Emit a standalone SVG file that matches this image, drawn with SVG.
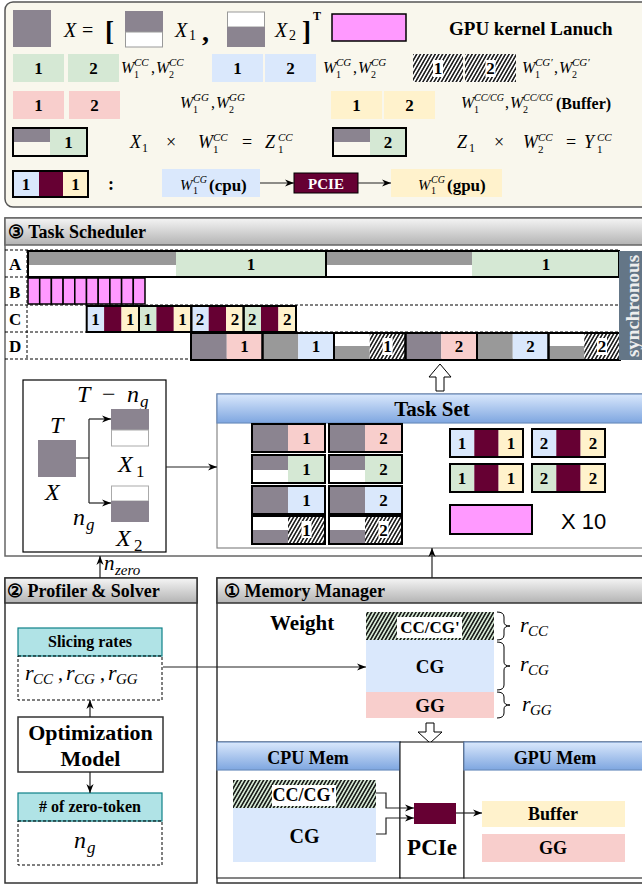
<svg xmlns="http://www.w3.org/2000/svg" width="642" height="888" viewBox="0 0 642 888">
<style>
.t{font-family:"Liberation Serif","DejaVu Serif",serif}
.b{font-weight:bold}
.i{font-style:italic}
.c{text-anchor:middle}
.d{font-family:"Liberation Serif","DejaVu Serif",serif;font-weight:bold;font-size:17px;text-anchor:middle}
.s{stroke:#000;stroke-width:2;fill:none}
.e{stroke:#222;stroke-width:1.2;fill:none;marker-end:url(#a)}
.gp{fill:#8b8490}
.gy{fill:#999999}
.G{fill:#d5e8d4}
.B{fill:#dae8fc}
.R{fill:#f8cecc}
.Y{fill:#fff2cc}
.M{fill:#660033}
.P{fill:#ff99ff}
.W{fill:#ffffff}
.H{fill:url(#h)}
.dl{stroke:#000;stroke-width:1;stroke-dasharray:3 2;fill:none}
</style>
<defs>
<pattern id="h" width="3.2" height="3.2" patternUnits="userSpaceOnUse" patternTransform="rotate(30)"><line x1="0.8" y1="0" x2="0.8" y2="3.2" stroke="#000" stroke-width="1.4"/></pattern>
<linearGradient id="gh" x1="0" y1="0" x2="0" y2="1"><stop offset="0" stop-color="#f5f5f5"/><stop offset="1" stop-color="#b3b3b3"/></linearGradient>
<linearGradient id="bh" x1="0" y1="0" x2="0" y2="1"><stop offset="0" stop-color="#dae8fc"/><stop offset="1" stop-color="#7ea6e0"/></linearGradient>
<marker id="a" viewBox="0 0 10 10" refX="10" refY="5" markerWidth="9" markerHeight="9" orient="auto" markerUnits="userSpaceOnUse"><path d="M0,1 L10,5 L0,9 L3,5 z" fill="#000"/></marker>
</defs>

<g id="legend">
<rect x="5" y="2" width="645" height="205" rx="8" fill="#f9f7ed" stroke="#555" stroke-width="1.5"/>
<rect x="13" y="10" width="38" height="37" class="gp"/>
<text class="t i" x="64" y="37" font-size="20">X</text>
<text class="t" x="82" y="37" font-size="20">=</text>
<text class="t b" x="105" y="40" font-size="27">[</text>
<rect x="125" y="11" width="38" height="21" class="gp"/>
<rect x="125.5" y="32" width="37" height="15" fill="#fff" stroke="#999"/>
<text class="t i" x="175" y="37" font-size="20">X</text>
<text class="t" x="189" y="40" font-size="14">1</text>
<text class="t b" x="202" y="41" font-size="28">,</text>
<rect x="227.5" y="12" width="37" height="15" fill="#fff" stroke="#999"/>
<rect x="227" y="27" width="38" height="20" class="gp"/>
<text class="t i" x="275" y="37" font-size="20">X</text>
<text class="t" x="289" y="40" font-size="14">2</text>
<text class="t b" x="302" y="40" font-size="27">]</text>
<text class="t b" x="313" y="20" font-size="12">T</text>
<rect x="332" y="14" width="74" height="27" class="P" stroke="#000" stroke-width="1.5"/>
<text class="t b" x="449" y="35" font-size="19">GPU kernel Lanuch</text>

<rect x="13" y="54" width="51" height="28" class="G"/>
<rect x="68" y="54" width="51" height="28" class="G"/>
<text class="d" x="38.5" y="74">1</text>
<text class="d" x="93.5" y="74">2</text>
<text class="t i" x="121" y="73" font-size="16">W</text>
<text class="t i" x="134" y="66" font-size="11">CC</text>
<text class="t" x="134" y="78" font-size="10">1</text>
<text class="t" x="151" y="73" font-size="16">,</text>
<text class="t i" x="156" y="73" font-size="16">W</text>
<text class="t i" x="169" y="66" font-size="11">CC</text>
<text class="t" x="169" y="78" font-size="10">2</text>

<rect x="212" y="54" width="51" height="28" class="B"/>
<rect x="265" y="54" width="51" height="28" class="B"/>
<text class="d" x="237.5" y="74">1</text>
<text class="d" x="290.5" y="74">2</text>
<text class="t i" x="323" y="73" font-size="16">W</text>
<text class="t i" x="336" y="66" font-size="11">CG</text>
<text class="t" x="336" y="78" font-size="10">1</text>
<text class="t" x="353" y="73" font-size="16">,</text>
<text class="t i" x="358" y="73" font-size="16">W</text>
<text class="t i" x="371" y="66" font-size="11">CG</text>
<text class="t" x="371" y="78" font-size="10">2</text>

<rect x="413" y="54" width="50" height="28" class="W"/>
<rect x="413" y="54" width="50" height="28" class="H"/>
<rect x="465" y="54" width="51" height="28" class="W"/>
<rect x="465" y="54" width="51" height="28" class="H"/>
<rect x="433" y="60" width="10" height="17" class="W"/>
<rect x="485.5" y="60" width="10" height="17" class="W"/>
<text class="d" x="438" y="74">1</text>
<text class="d" x="490.5" y="74">2</text>
<text class="t i" x="522" y="73" font-size="16">W</text>
<text class="t i" x="535" y="66" font-size="11">CG′</text>
<text class="t" x="535" y="78" font-size="10">1</text>
<text class="t" x="554" y="73" font-size="16">,</text>
<text class="t i" x="559" y="73" font-size="16">W</text>
<text class="t i" x="572" y="66" font-size="11">CG′</text>
<text class="t" x="572" y="78" font-size="10">2</text>

<rect x="13" y="91" width="51" height="28" class="R"/>
<rect x="69" y="91" width="51" height="28" class="R"/>
<text class="d" x="38.5" y="111">1</text>
<text class="d" x="94.5" y="111">2</text>
<text class="t i" x="180" y="108" font-size="16">W</text>
<text class="t i" x="193" y="101" font-size="11">GG</text>
<text class="t" x="193" y="113" font-size="10">1</text>
<text class="t" x="211" y="108" font-size="16">,</text>
<text class="t i" x="216" y="108" font-size="16">W</text>
<text class="t i" x="229" y="101" font-size="11">GG</text>
<text class="t" x="229" y="113" font-size="10">2</text>

<rect x="331" y="91" width="51" height="28" class="Y"/>
<rect x="384" y="91" width="51" height="28" class="Y"/>
<text class="d" x="356.5" y="111">1</text>
<text class="d" x="409.5" y="111">2</text>
<text class="t i" x="461" y="108" font-size="16">W</text>
<text class="t i" x="474" y="101" font-size="10">CC/CG</text>
<text class="t" x="474" y="113" font-size="10">1</text>
<text class="t" x="505" y="108" font-size="16">,</text>
<text class="t i" x="510" y="108" font-size="16">W</text>
<text class="t i" x="523" y="101" font-size="10">CC/CG</text>
<text class="t" x="523" y="113" font-size="10">2</text>
<text class="t b" x="556" y="109" font-size="16">(Buffer)</text>

<rect x="13" y="128" width="37" height="14" class="gp"/>
<rect x="50" y="128" width="37" height="28" class="G"/>
<rect x="13" y="128" width="74" height="28" class="s"/>
<text class="d" x="68.5" y="148">1</text>
<text class="t i" x="130" y="148" font-size="18">X</text>
<text class="t" x="142" y="152" font-size="12">1</text>
<text class="t" x="166" y="148" font-size="18">×</text>
<text class="t i" x="198" y="148" font-size="18">W</text>
<text class="t i" x="213" y="141" font-size="11">CC</text>
<text class="t" x="213" y="153" font-size="11">1</text>
<text class="t" x="242" y="148" font-size="18">=</text>
<text class="t i" x="265" y="148" font-size="18">Z</text>
<text class="t i" x="278" y="141" font-size="11">CC</text>
<text class="t" x="278" y="153" font-size="11">1</text>

<rect x="333" y="128" width="37" height="14" class="gp"/>
<rect x="370" y="128" width="36" height="28" class="G"/>
<rect x="333" y="128" width="73" height="28" class="s"/>
<text class="d" x="388" y="148">2</text>
<text class="t i" x="457" y="148" font-size="18">Z</text>
<text class="t" x="469" y="152" font-size="12">1</text>
<text class="t" x="494" y="148" font-size="18">×</text>
<text class="t i" x="523" y="148" font-size="18">W</text>
<text class="t i" x="538" y="141" font-size="11">CC</text>
<text class="t" x="538" y="153" font-size="11">2</text>
<text class="t" x="566" y="148" font-size="18">=</text>
<text class="t i" x="584" y="148" font-size="18">Y</text>
<text class="t i" x="597" y="141" font-size="11">CC</text>
<text class="t" x="597" y="153" font-size="11">1</text>

<rect x="13" y="171" width="26" height="26" class="B"/>
<rect x="39" y="171" width="24" height="26" class="M"/>
<rect x="63" y="171" width="25" height="26" class="Y"/>
<rect x="13" y="171" width="75" height="26" class="s"/>
<text class="d" x="26" y="190">1</text>
<text class="d" x="75.5" y="190">1</text>
<text class="t b" x="108" y="190" font-size="18">:</text>
<rect x="162" y="169" width="98" height="28" class="B"/>
<text class="t i" x="180" y="190" font-size="15">W</text>
<text class="t i" x="193" y="183" font-size="10">CG</text>
<text class="t" x="193" y="194" font-size="10">1</text>
<text class="t b" x="209" y="191" font-size="17">(cpu)</text>
<rect x="294" y="173" width="64" height="20" class="M" stroke="#000" stroke-width="1"/>
<text class="t b c" x="326" y="188.5" font-size="15" fill="#fff">PCIE</text>
<rect x="391" y="169" width="111" height="28" class="Y"/>
<text class="t i" x="418" y="190" font-size="15">W</text>
<text class="t i" x="431" y="183" font-size="10">CG</text>
<text class="t" x="431" y="194" font-size="10">1</text>
<text class="t b" x="447" y="191" font-size="17">(gpu)</text>
</g>

<g id="task-scheduler">
<rect x="5" y="218" width="645" height="338" fill="#fff" stroke="#666" stroke-width="1.5"/>
<rect x="5" y="218" width="645" height="27" fill="url(#gh)" stroke="#666" stroke-width="1.5"/>
<text class="t b" x="8" y="238" font-size="18">③ Task Scheduler</text>
<path class="dl" d="M5,250H619M5,277H619M5,305H619M5,332H619M5,359H619M27,250V359"/>
<text class="t b" x="9" y="270" font-size="17">A</text>
<text class="t b" x="9" y="298" font-size="17">B</text>
<text class="t b" x="9" y="325" font-size="17">C</text>
<text class="t b" x="9" y="352" font-size="17">D</text>
</g>

<g id="row-a">
<rect x="28" y="251" width="148" height="14" class="gy"/>
<rect x="28" y="265" width="148" height="12" class="W"/>
<rect x="176" y="251" width="150" height="26" class="G"/>
<rect x="326" y="251" width="146" height="14" class="gy"/>
<rect x="326" y="265" width="146" height="12" class="W"/>
<rect x="472" y="251" width="147" height="26" class="G"/>
<rect x="28" y="251" width="591" height="26" class="s"/>
<line x1="326" y1="251" x2="326" y2="277" stroke="#000" stroke-width="2"/>
<text class="d" x="251" y="270">1</text>
<text class="d" x="546" y="270">1</text>
</g>

<g id="row-b" stroke="#000" stroke-width="1.5">
<rect x="28" y="278" width="11.7" height="26" class="P"/>
<rect x="39.7" y="278" width="11.7" height="26" class="P"/>
<rect x="51.4" y="278" width="11.7" height="26" class="P"/>
<rect x="63.1" y="278" width="11.7" height="26" class="P"/>
<rect x="74.8" y="278" width="11.7" height="26" class="P"/>
<rect x="86.5" y="278" width="11.7" height="26" class="P"/>
<rect x="98.2" y="278" width="11.7" height="26" class="P"/>
<rect x="109.9" y="278" width="11.7" height="26" class="P"/>
<rect x="121.6" y="278" width="11.7" height="26" class="P"/>
<rect x="133.3" y="278" width="11.7" height="26" class="P"/>
</g>

<g id="row-c">
<rect x="86.7" y="306" width="17.4" height="26" class="B"/><rect x="104.1" y="306" width="17.4" height="26" class="M"/><rect x="121.5" y="306" width="17.5" height="26" class="Y"/>
<rect x="139" y="306" width="17.4" height="26" class="G"/><rect x="156.4" y="306" width="17.4" height="26" class="M"/><rect x="173.8" y="306" width="17.5" height="26" class="Y"/>
<rect x="191.3" y="306" width="17.4" height="26" class="B"/><rect x="208.7" y="306" width="17.4" height="26" class="M"/><rect x="226.1" y="306" width="17.5" height="26" class="Y"/>
<rect x="243.6" y="306" width="17.4" height="26" class="G"/><rect x="261" y="306" width="17.4" height="26" class="M"/><rect x="278.4" y="306" width="17.6" height="26" class="Y"/>
<rect x="86.7" y="306" width="52.3" height="26" class="s"/>
<rect x="139" y="306" width="52.3" height="26" class="s"/>
<rect x="191.3" y="306" width="52.3" height="26" class="s"/>
<rect x="243.6" y="306" width="52.4" height="26" class="s"/>
<text class="d" x="95.4" y="325">1</text><text class="d" x="130.3" y="325">1</text>
<text class="d" x="147.7" y="325">1</text><text class="d" x="182.6" y="325">1</text>
<text class="d" x="200" y="325">2</text><text class="d" x="234.9" y="325">2</text>
<text class="d" x="252.3" y="325">2</text><text class="d" x="287.2" y="325">2</text>
</g>

<g id="row-d">
<rect x="191" y="333" width="35.75" height="27" class="gp"/><rect x="226.75" y="333" width="35.75" height="27" class="R"/>
<rect x="262.5" y="333" width="35.75" height="27" class="gy"/><rect x="298.25" y="333" width="35.75" height="27" class="B"/>
<rect x="334" y="333" width="35.75" height="27" class="W"/><rect x="334" y="346" width="35.75" height="14" class="gy"/>
<rect x="369.75" y="333" width="35.75" height="27" class="W"/><rect x="369.75" y="333" width="35.75" height="27" class="H"/>
<rect x="405.5" y="333" width="35.75" height="27" class="gp"/><rect x="441.25" y="333" width="35.75" height="27" class="R"/>
<rect x="477" y="333" width="35.75" height="27" class="gy"/><rect x="512.75" y="333" width="35.75" height="27" class="B"/>
<rect x="548.5" y="333" width="35.75" height="27" class="W"/><rect x="548.5" y="346" width="35.75" height="14" class="gy"/>
<rect x="584.25" y="333" width="35.75" height="27" class="W"/><rect x="584.25" y="333" width="35.75" height="27" class="H"/>
<rect x="382.6" y="338" width="10" height="17" class="W"/>
<rect x="597" y="338" width="10" height="17" class="W"/>
<rect x="191" y="333" width="71.5" height="27" class="s"/>
<rect x="262.5" y="333" width="71.5" height="27" class="s"/>
<rect x="334" y="333" width="71.5" height="27" class="s"/>
<rect x="405.5" y="333" width="71.5" height="27" class="s"/>
<rect x="477" y="333" width="71.5" height="27" class="s"/>
<rect x="548.5" y="333" width="71.5" height="27" class="s"/>
<text class="d" x="244.6" y="352">1</text>
<text class="d" x="316.1" y="352">1</text>
<text class="d" x="387.6" y="352">1</text>
<text class="d" x="459.1" y="352">2</text>
<text class="d" x="530.6" y="352">2</text>
<text class="d" x="602" y="352">2</text>
</g>

<g id="synchronous">
<rect x="619" y="251" width="27" height="109" fill="#647687"/>
<text class="t b c" transform="translate(639,306) rotate(-90)" font-size="19" fill="#eeeeee">synchronous</text>
</g>

<g id="up-arrow">
<polygon points="440,364 451,377 444,377 444,391 436,391 436,377 429,377" fill="#fff" stroke="#000" stroke-width="1"/>
</g>

<g id="split-box">
<rect x="23" y="380" width="143" height="172" fill="#fff" stroke="#000" stroke-width="1.2"/>
<text class="t i" x="77" y="402" font-size="24">T</text>
<text class="t" x="102" y="402" font-size="24">−</text>
<text class="t i" x="127" y="402" font-size="24">n</text>
<text class="t i" x="140" y="407" font-size="17">g</text>
<text class="t i" x="50" y="433" font-size="24">T</text>
<rect x="38" y="440" width="38" height="37" class="gp"/>
<text class="t i" x="45" y="500" font-size="24">X</text>
<rect x="111" y="409" width="38" height="21" class="gp"/>
<rect x="111.5" y="430" width="37" height="16" fill="#fff" stroke="#aaa"/>
<text class="t i" x="118" y="472" font-size="24">X</text>
<text class="t" x="136" y="477" font-size="17">1</text>
<rect x="111.5" y="486" width="37" height="15" fill="#fff" stroke="#aaa"/>
<rect x="111" y="501" width="38" height="21" class="gp"/>
<text class="t i" x="73" y="525" font-size="24">n</text>
<text class="t i" x="86" y="530" font-size="17">g</text>
<text class="t i" x="116" y="546" font-size="24">X</text>
<text class="t" x="134" y="551" font-size="17">2</text>
</g>

<g id="task-set">
<rect x="217" y="394" width="429" height="154" fill="#fff" stroke="#888" stroke-width="1.2"/>
<rect x="217" y="394" width="429" height="29" fill="url(#bh)" stroke="#6c8ebf" stroke-width="1.2"/>
<text class="t b c" x="432" y="416" font-size="21">Task Set</text>
<rect x="252" y="424" width="36" height="28" class="gp"/><rect x="288" y="424" width="37" height="28" class="R"/>
<rect x="329" y="424" width="36" height="28" class="gp"/><rect x="365" y="424" width="37" height="28" class="R"/>
<rect x="252" y="455" width="36" height="28" class="W"/><rect x="252" y="455" width="36" height="15" class="gp"/><rect x="288" y="455" width="37" height="28" class="G"/>
<rect x="329" y="455" width="36" height="28" class="W"/><rect x="329" y="455" width="36" height="15" class="gp"/><rect x="365" y="455" width="37" height="28" class="G"/>
<rect x="252" y="486" width="36" height="28" class="gp"/><rect x="288" y="486" width="37" height="28" class="B"/>
<rect x="329" y="486" width="36" height="28" class="gp"/><rect x="365" y="486" width="37" height="28" class="B"/>
<rect x="252" y="516" width="36" height="28" class="W"/><rect x="252" y="530" width="36" height="14" class="gp"/><rect x="288" y="516" width="37" height="28" class="W"/><rect x="288" y="516" width="37" height="28" class="H"/>
<rect x="329" y="516" width="36" height="28" class="W"/><rect x="329" y="530" width="36" height="14" class="gp"/><rect x="365" y="516" width="37" height="28" class="W"/><rect x="365" y="516" width="37" height="28" class="H"/>
<rect x="301.5" y="521" width="10" height="17" class="W"/>
<rect x="378.5" y="521" width="10" height="17" class="W"/>
<rect x="252" y="424" width="73" height="28" class="s"/><rect x="329" y="424" width="73" height="28" class="s"/>
<rect x="252" y="455" width="73" height="28" class="s"/><rect x="329" y="455" width="73" height="28" class="s"/>
<rect x="252" y="486" width="73" height="28" class="s"/><rect x="329" y="486" width="73" height="28" class="s"/>
<rect x="252" y="516" width="73" height="28" class="s"/><rect x="329" y="516" width="73" height="28" class="s"/>
<text class="d" x="306.5" y="444">1</text><text class="d" x="383.5" y="444">2</text>
<text class="d" x="306.5" y="475">1</text><text class="d" x="383.5" y="475">2</text>
<text class="d" x="306.5" y="506">1</text><text class="d" x="383.5" y="506">2</text>
<text class="d" x="306.5" y="536">1</text><text class="d" x="383.5" y="536">2</text>

<rect x="450" y="429" width="24.3" height="28" class="B"/><rect x="474.3" y="429" width="24.3" height="28" class="M"/><rect x="498.6" y="429" width="24.4" height="28" class="Y"/>
<rect x="532" y="429" width="24.3" height="28" class="B"/><rect x="556.3" y="429" width="24.3" height="28" class="M"/><rect x="580.6" y="429" width="24.4" height="28" class="Y"/>
<rect x="450" y="464" width="24.3" height="28" class="G"/><rect x="474.3" y="464" width="24.3" height="28" class="M"/><rect x="498.6" y="464" width="24.4" height="28" class="Y"/>
<rect x="532" y="464" width="24.3" height="28" class="G"/><rect x="556.3" y="464" width="24.3" height="28" class="M"/><rect x="580.6" y="464" width="24.4" height="28" class="Y"/>
<rect x="450" y="429" width="73" height="28" class="s"/><rect x="532" y="429" width="73" height="28" class="s"/>
<rect x="450" y="464" width="73" height="28" class="s"/><rect x="532" y="464" width="73" height="28" class="s"/>
<text class="d" x="462" y="449">1</text><text class="d" x="511" y="449">1</text>
<text class="d" x="544" y="449">2</text><text class="d" x="593" y="449">2</text>
<text class="d" x="462" y="484">1</text><text class="d" x="511" y="484">1</text>
<text class="d" x="544" y="484">2</text><text class="d" x="593" y="484">2</text>
<rect x="450" y="505" width="82" height="29" class="P" stroke="#000" stroke-width="2"/>
<text x="561" y="529" font-family="Liberation Sans, Arial, sans-serif" font-size="22">X 10</text>
</g>

<g id="profiler">
<rect x="5" y="578" width="192" height="305" fill="#fff" stroke="#333" stroke-width="1.5"/>
<rect x="5" y="578" width="192" height="25" fill="url(#gh)" stroke="#333" stroke-width="1.5"/>
<text class="t b" x="7" y="597" font-size="18">② Profiler &amp; Solver</text>
<rect x="18" y="628" width="144" height="28" fill="#b0e3e6" stroke="#0e8088" stroke-width="1.2"/>
<text class="t b c" x="90" y="647" font-size="16">Slicing rates</text>
<rect x="18" y="656" width="144" height="44" class="dl"/>
<text class="t i" x="25" y="680" font-size="22">r</text>
<text class="t i" x="33" y="684" font-size="15">CC</text>
<text class="t" x="58" y="680" font-size="20">,</text>
<text class="t i" x="66" y="680" font-size="22">r</text>
<text class="t i" x="74" y="684" font-size="15">CG</text>
<text class="t" x="100" y="680" font-size="20">,</text>
<text class="t i" x="108" y="680" font-size="22">r</text>
<text class="t i" x="116" y="684" font-size="15">GG</text>
<rect x="18" y="717" width="145" height="55" fill="#fff" stroke="#333" stroke-width="1.5"/>
<text class="t b c" x="90.5" y="740" font-size="22">Optimization</text>
<text class="t b c" x="90.5" y="766" font-size="22">Model</text>
<rect x="18" y="793" width="144" height="28" fill="#b0e3e6" stroke="#0e8088" stroke-width="1.2"/>
<text class="t b c" x="90" y="812" font-size="16"># of zero-token</text>
<rect x="18" y="821" width="144" height="44" class="dl"/>
<text class="t i" x="74" y="848" font-size="24">n</text>
<text class="t i" x="87" y="853" font-size="17">g</text>
</g>

<g id="memory-manager">
<rect x="217" y="578" width="429" height="305" fill="#fff" stroke="#333" stroke-width="1.5"/>
<rect x="217" y="578" width="429" height="25" fill="url(#gh)" stroke="#333" stroke-width="1.5"/>
<text class="t b" x="224" y="597" font-size="18">① Memory Manager</text>
<text class="t b" x="270" y="630" font-size="21">Weight</text>
<rect x="366" y="612" width="128" height="28" class="G"/>
<rect x="366" y="612" width="128" height="28" class="H"/>
<rect x="397" y="617" width="65" height="21" class="W"/>
<text class="t b c" x="430" y="633" font-size="17">CC/CG'</text>
<rect x="366" y="640" width="128" height="52" class="B"/>
<text class="t b c" x="430" y="673" font-size="19">CG</text>
<rect x="366" y="692" width="128" height="26" class="R"/>
<text class="t b c" x="430" y="712" font-size="19">GG</text>
<path d="M497,612 Q504,612 504,617 L504,622 Q504,626 510,626 Q504,626 504,630 L504,635 Q504,640 497,640" fill="none" stroke="#000" stroke-width="1"/>
<path d="M497,642 Q504,642 504,647 L504,662 Q504,666 510,666 Q504,666 504,670 L504,685 Q504,690 497,690" fill="none" stroke="#000" stroke-width="1"/>
<path d="M497,692 Q504,692 504,697 L504,701 Q504,705 510,705 Q504,705 504,709 L504,713 Q504,718 497,718" fill="none" stroke="#000" stroke-width="1"/>
<text class="t i" x="520" y="632" font-size="22">r</text>
<text class="t i" x="528" y="636" font-size="15">CC</text>
<text class="t i" x="520" y="671" font-size="22">r</text>
<text class="t i" x="528" y="675" font-size="15">CG</text>
<text class="t i" x="522" y="711" font-size="22">r</text>
<text class="t i" x="530" y="715" font-size="15">GG</text>
<polygon points="426,723 434,723 434,732 442,732 430,743 418,732 426,732" fill="#fff" stroke="#000" stroke-width="1"/>
</g>

<g id="cpu-mem">
<rect x="217" y="742" width="183" height="136" fill="#fff" stroke="#333" stroke-width="1.2"/>
<rect x="217" y="742" width="183" height="28" fill="url(#bh)" stroke="#6c8ebf" stroke-width="1.2"/>
<text class="t b c" x="308" y="764" font-size="18">CPU Mem</text>
<rect x="233" y="780" width="143" height="28" class="G"/>
<rect x="233" y="780" width="143" height="28" class="H"/>
<rect x="272" y="785" width="64" height="21" class="W"/>
<text class="t b c" x="304" y="801" font-size="18">CC/CG'</text>
<rect x="233" y="808" width="143" height="54" class="B"/>
<text class="t b c" x="304.5" y="843" font-size="20">CG</text>
</g>

<g id="pcie">
<rect x="400" y="742" width="64" height="136" fill="#fff" stroke="#000" stroke-width="1"/>
<rect x="414" y="803" width="42" height="21" class="M"/>
<text class="t b c" x="432" y="855" font-size="23">PCIe</text>
</g>

<g id="gpu-mem">
<rect x="464" y="742" width="182" height="136" fill="#fff" stroke="#333" stroke-width="1.2"/>
<rect x="464" y="742" width="182" height="28" fill="url(#bh)" stroke="#6c8ebf" stroke-width="1.2"/>
<text class="t b c" x="555" y="764" font-size="18">GPU Mem</text>
<rect x="482" y="801" width="143" height="26" class="Y"/>
<text class="t b c" x="553" y="820" font-size="18">Buffer</text>
<rect x="482" y="834" width="143" height="28" class="R"/>
<text class="t b c" x="553" y="854" font-size="18">GG</text>
</g>

<g id="connectors">
<line class="e" x1="260" y1="183" x2="294" y2="183"/>
<line class="e" x1="358" y1="183" x2="391" y2="183"/>
<path d="M76,458H89M89,419V503" fill="none" stroke="#222" stroke-width="1.2"/>
<line class="e" x1="89" y1="419" x2="111" y2="419"/>
<line class="e" x1="89" y1="503" x2="111" y2="503"/>
<line class="e" x1="166" y1="467" x2="217" y2="467"/>
<line class="e" x1="432" y1="578" x2="432" y2="548"/>
<line class="e" x1="100" y1="578" x2="100" y2="556"/>
<line class="e" x1="163" y1="667" x2="366" y2="667"/>
<line class="e" x1="90" y1="717" x2="90" y2="700"/>
<line class="e" x1="90" y1="772" x2="90" y2="793"/>
<polyline class="e" points="376,793 386,793 386,808 414,808"/>
<polyline class="e" points="376,834 386,834 386,818 414,818"/>
<line class="e" x1="456" y1="813" x2="482" y2="813"/>
<text class="t i" x="104" y="570" font-size="21">n</text>
<text class="t i" x="115" y="575" font-size="15">zero</text>
</g>
</svg>
